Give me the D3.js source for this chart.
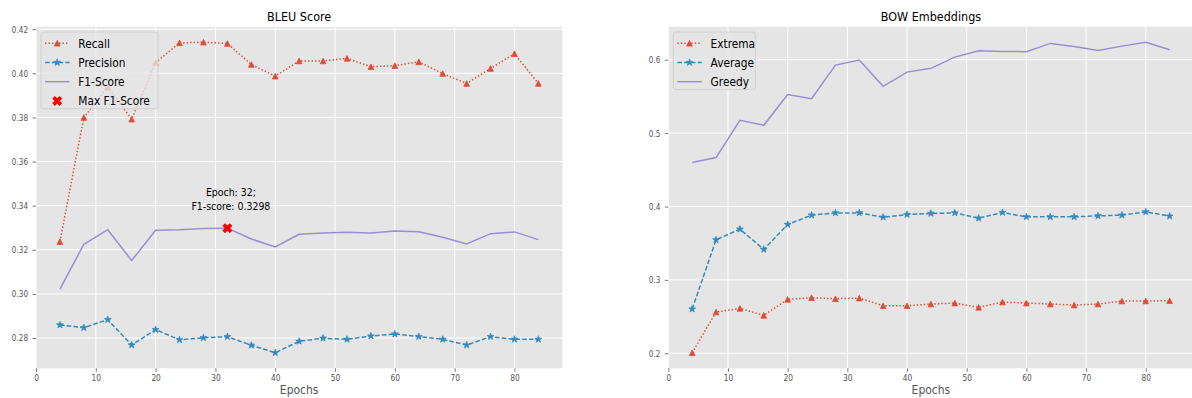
<!DOCTYPE html>
<html>
<head>
<meta charset="utf-8">
<script src="https://cdn.jsdelivr.net/npm/d3@7"></script>
<style>
  html, body { margin: 0; padding: 0; background: #ffffff; }
  svg { display: block; font-family: "DejaVu Sans", sans-serif; }
</style>
</head>
<body>
<svg id="chart" width="1192" height="398"></svg>
<script>
// Training epochs shared by both panels
const epochs = [4, 8, 12, 16, 20, 24, 28, 32, 36, 40, 44, 48, 52, 56, 60, 64, 68, 72, 76, 80, 84];

// BLEU scores per epoch
const bleuRecall = [0.3237, 0.3800, 0.3937, 0.3792, 0.4049, 0.4138, 0.4141, 0.4135, 0.4040, 0.3987, 0.4056,
                    0.4056, 0.4068, 0.4030, 0.4035, 0.4052, 0.3999, 0.3954, 0.4022, 0.4089, 0.3954];
const bleuPrecision = [0.2859, 0.2847, 0.2883, 0.2768, 0.2838, 0.2792, 0.2801, 0.2806, 0.2767, 0.2733, 0.2785,
                       0.2799, 0.2794, 0.2809, 0.2818, 0.2806, 0.2794, 0.2768, 0.2806, 0.2794, 0.2794];
const bleuF1 = [0.3022, 0.3225, 0.3291, 0.3151, 0.3288, 0.3291, 0.3297, 0.3298, 0.3249, 0.3213, 0.3270,
                0.3276, 0.3279, 0.3276, 0.3285, 0.3282, 0.3257, 0.3226, 0.3273, 0.3281, 0.3246];

// Bag-of-words embedding similarities per epoch
const bowExtrema = [0.2007, 0.2562, 0.2612, 0.2517, 0.2735, 0.2757, 0.2743, 0.2752, 0.2648, 0.2648, 0.2671,
                    0.2684, 0.2626, 0.2698, 0.2684, 0.2671, 0.2657, 0.2671, 0.2712, 0.2712, 0.2716];
const bowAverage = [0.2603, 0.3546, 0.3691, 0.3415, 0.3755, 0.3882, 0.3913, 0.3913, 0.3854, 0.3891, 0.3905,
                    0.3913, 0.3841, 0.3918, 0.3859, 0.3859, 0.3859, 0.3872, 0.3882, 0.3927, 0.3868];
const bowGreedy = [0.4599, 0.4667, 0.5174, 0.5106, 0.5524, 0.5469, 0.5927, 0.5995, 0.5637, 0.5831, 0.5882,
                   0.6035, 0.6122, 0.6113, 0.6109, 0.6222, 0.6181, 0.6127, 0.6185, 0.6238, 0.6136];

// Tick labels
const xTicks = [0, 10, 20, 30, 40, 50, 60, 70, 80];
const bleuYTicks = [0.28, 0.30, 0.32, 0.34, 0.36, 0.38, 0.40, 0.42];
const bowYTicks = [0.2, 0.3, 0.4, 0.5, 0.6];

const RED = "#E24A33", BLUE = "#348ABD", PURPLE = "#988ED5";
const svg = d3.select("#chart");

// Marker shapes
const markerPath = {
  tri: r => `M0,${-r}L${r},${r}L${-r},${r}Z`,
  star: r => {
    const pts = [];
    for (let i = 0; i < 10; i++) {
      const rr = i % 2 === 0 ? r : r * 0.381;
      const a = -Math.PI / 2 + i * Math.PI / 5;
      pts.push([rr * Math.cos(a), rr * Math.sin(a)]);
    }
    return "M" + pts.map(p => p.join(",")).join("L") + "Z";
  },
  cross: r => {
    const t = r * 0.36;
    const base = [[-t, -r], [t, -r], [t, -t], [r, -t], [r, t], [t, t], [t, r], [-t, r], [-t, t], [-r, t], [-r, -t], [-t, -t]];
    const c = Math.SQRT1_2;
    return "M" + base.map(([x, y]) => [(x - y) * c, (x + y) * c].join(",")).join("L") + "Z";
  }
};
const markerSize = { tri: 2.8, star: 3.6, cross: 5.2 };

// Horizontal squeeze of text around its anchor
function squeeze(sel, sx) {
  sel.each(function () {
    const t = d3.select(this);
    const x = +t.attr("x") || 0;
    t.attr("transform", `translate(${x},0) scale(${sx},1) translate(${-x},0)`);
  });
}

function extent5(arrays) {
  const all = arrays.flat();
  const lo = d3.min(all), hi = d3.max(all), pad = (hi - lo) * 0.05;
  return [lo - pad, hi + pad];
}

const panels = [
  {
    title: "BLEU Score", left: 36, right: 562.3, yTicks: bleuYTicks, fmt: d3.format(".2f"),
    series: [
      { name: "Recall", values: bleuRecall, color: RED, dash: "1.4,2.1", marker: "tri" },
      { name: "Precision", values: bleuPrecision, color: BLUE, dash: "4.6,2.2", marker: "star" },
      { name: "F1-Score", values: bleuF1, color: PURPLE, dash: null, marker: null }
    ],
    legendW: 117, extra: true
  },
  {
    title: "BOW Embeddings", left: 668.3, right: 1193.5, yTicks: bowYTicks, fmt: d3.format(".1f"),
    series: [
      { name: "Extrema", values: bowExtrema, color: RED, dash: "1.4,2.1", marker: "tri" },
      { name: "Average", values: bowAverage, color: BLUE, dash: "4.6,2.2", marker: "star" },
      { name: "Greedy", values: bowGreedy, color: PURPLE, dash: null, marker: null }
    ],
    legendW: 82, extra: false
  }
];

const plotTop = 26.7, plotBottom = 368.3;

panels.forEach(p => {
  const x = d3.scaleLinear().domain([0, 88]).range([p.left, p.right]);
  const y = d3.scaleLinear().domain(extent5(p.series.map(s => s.values))).range([plotBottom, plotTop]);
  const g = svg.append("g");

  // Plot background and white grid
  g.append("rect").attr("x", p.left).attr("y", plotTop)
    .attr("width", p.right - p.left).attr("height", plotBottom - plotTop).attr("fill", "#E5E5E5");
  g.selectAll(".vgrid").data(xTicks).join("line")
    .attr("x1", d => x(d)).attr("x2", d => x(d)).attr("y1", plotTop).attr("y2", plotBottom)
    .attr("stroke", "#ffffff").attr("stroke-width", 1);
  g.selectAll(".hgrid").data(p.yTicks).join("line")
    .attr("x1", p.left).attr("x2", p.right).attr("y1", d => y(d)).attr("y2", d => y(d))
    .attr("stroke", "#ffffff").attr("stroke-width", 1);

  // Axes
  const ax = g.append("g").attr("transform", `translate(0,${plotBottom})`)
    .call(d3.axisBottom(x).tickValues(xTicks).tickFormat(d3.format("d")).tickSize(3.5).tickPadding(3));
  const ay = g.append("g").attr("transform", `translate(${p.left},0)`)
    .call(d3.axisLeft(y).tickValues(p.yTicks).tickFormat(p.fmt).tickSize(3.5).tickPadding(4.5));
  [ax, ay].forEach(a => {
    a.select(".domain").remove();
    a.selectAll(".tick line").attr("stroke", "#555555").attr("stroke-width", 0.8);
    a.selectAll(".tick text").attr("fill", "#555555").attr("font-size", 9.3)
      .attr("font-family", "DejaVu Sans");
  });
  squeeze(ax.selectAll(".tick text"), 0.8);
  squeeze(ay.selectAll(".tick text"), 0.78);

  // Series lines and markers
  p.series.forEach(s => {
    const line = d3.line().x((d, i) => x(epochs[i])).y(d => y(d));
    g.append("path").datum(s.values).attr("d", line)
      .attr("fill", "none").attr("stroke", s.color).attr("stroke-width", 1.5)
      .attr("stroke-dasharray", s.dash);
    if (s.marker) {
      g.selectAll(null).data(s.values).join("path")
        .attr("transform", (d, i) => `translate(${x(epochs[i])},${y(d)})`)
        .attr("d", markerPath[s.marker](markerSize[s.marker]))
        .attr("fill", s.color).attr("stroke", s.color).attr("stroke-width", 0.8);
    }
  });

  // Best F1 marker with annotation
  let legendItems = p.series.slice();
  if (p.extra) {
    const bestI = d3.maxIndex(bleuF1);
    const bx = x(epochs[bestI]), by = y(bleuF1[bestI]);
    g.append("path").attr("transform", `translate(${bx},${by})`)
      .attr("d", markerPath.cross(markerSize.cross)).attr("fill", "#FF0000");
    const ann = g.append("text").attr("font-size", 10).attr("fill", "#000").attr("text-anchor", "middle");
    ann.append("tspan").attr("x", bx + 3.5).attr("y", by - 32.5).text(`Epoch: ${epochs[bestI]};`);
    ann.append("tspan").attr("x", bx + 3.5).attr("y", by - 18.5).text(`F1-score: ${bleuF1[bestI].toFixed(4)}`);
    ann.attr("transform", `translate(${bx + 3.5},0) scale(0.94,1) translate(${-(bx + 3.5)},0)`);
    legendItems.push({ name: "Max F1-Score", color: "#FF0000", dash: null, marker: "cross", noLine: true });
  }

  // Title and x label
  const title = g.append("text").attr("x", (p.left + p.right) / 2).attr("y", 21)
    .attr("text-anchor", "middle").attr("font-size", 12.2).attr("fill", "#000").text(p.title);
  squeeze(title, 0.92);
  const xl = g.append("text").attr("x", (p.left + p.right) / 2).attr("y", 394.5)
    .attr("text-anchor", "middle").attr("font-size", 12).attr("fill", "#555555").text("Epochs");
  squeeze(xl, 0.9);

  // Legend
  const lx = p.left + 5, ly = 32, rowH = 19.2;
  const lg = g.append("g");
  lg.append("rect").attr("x", lx).attr("y", ly).attr("rx", 2.5)
    .attr("width", p.legendW).attr("height", legendItems.length * rowH)
    .attr("fill", "#E5E5E5").attr("fill-opacity", 0.8).attr("stroke", "#CCCCCC").attr("stroke-width", 0.8);
  legendItems.forEach((s, i) => {
    const cy = ly + 11.3 + i * rowH;
    if (!s.noLine) {
      lg.append("line").attr("x1", lx + 4).attr("x2", lx + 28.5).attr("y1", cy).attr("y2", cy)
        .attr("stroke", s.color).attr("stroke-width", 1.5).attr("stroke-dasharray", s.dash);
    }
    if (s.marker) {
      lg.append("path").attr("transform", `translate(${lx + 16.2},${cy})`)
        .attr("d", markerPath[s.marker](markerSize[s.marker]))
        .attr("fill", s.color).attr("stroke", s.color).attr("stroke-width", s.noLine ? 0 : 0.8);
    }
    const t = lg.append("text").attr("x", lx + 37.3).attr("y", cy + 4.6)
      .attr("font-size", 12.3).attr("fill", "#000").text(s.name);
    squeeze(t, 0.86);
  });
});
</script>
</body>
</html>
